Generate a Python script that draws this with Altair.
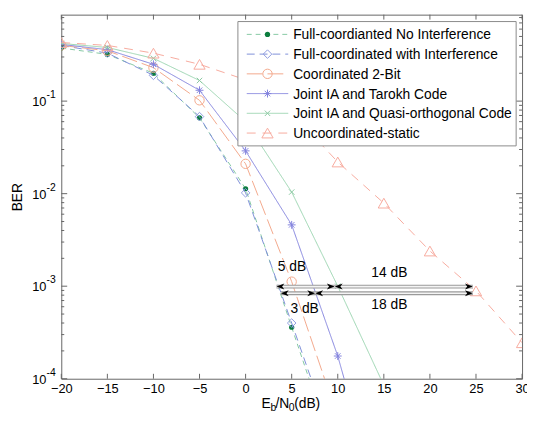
import altair as alt
import pandas as pd

# ---------------- data ----------------
EBN0 = [-20, -15, -10, -5, 0, 5, 10, 15, 20, 25, 30]
SERIES = [
    "Full-coordianted No Interference",
    "Full-coordinated with Interference",
    "Coordinated 2-Bit",
    "Joint IA and Tarokh Code",
    "Joint IA and Quasi-orthogonal Code",
    "Uncoordinated-static",
]
BER_FULL_NO_INT = [0.375, 0.32, 0.20, 0.066, 0.0113, 3.6e-4, 1.2e-5]
BER_FULL_INT = [0.40, 0.33, 0.19, 0.068, 0.0102, 4.0e-4, 1.5e-5]
BER_2BIT = [0.40, 0.35, 0.23, 0.102, 0.021, 1.12e-3, 3.8e-5]
BER_TAROKH = [0.41, 0.36, 0.25, 0.131, 0.029, 4.6e-3, 1.76e-4, 3e-6]
BER_QUASI = [0.42, 0.38, 0.29, 0.167, 0.06, 0.0104, 1.0e-3, 8.5e-5]
BER_UNCOORD = [0.43, 0.40, 0.33, 0.25, 0.17, 0.075, 0.022, 0.0079, 2.4e-3, 8.9e-4, 2.45e-4]

Y_MAJOR = [1e-1, 1e-2, 1e-3, 1e-4]
Y_EXP = ["-1", "-2", "-3", "-4"]

# annotation arrows: start, end, level
ARROW_X1 = [3.35, 3.82]
ARROW_X2 = [24.66, 24.66]
ARROW_Y = [9.9e-4, 8.4e-4]
ARROW_MID = [9.67, 7.55]
ANN_TEXT = ["5 dB", "14 dB", "3 dB", "18 dB"]
ANN_X = [5.03, 15.6, 6.4, 15.6]
ANN_Y = [1.6e-3, 1.37e-3, 5.6e-4, 6.3e-4]

# ---------------- styling ----------------
FONT = "Liberation Sans"
W, H = 467, 369
FRAME = "#666666"
ASTER = "M-1,0L1,0M0,-1L0,1M-0.7,-0.7L0.7,0.7M-0.7,0.7L0.7,-0.7"
XMARK = "M-1,-1L1,1M-1,1L1,-1"
ARROW = "M0,0L-1,-0.38L-0.72,0L-1,0.38Z"

STYLE = [
    # line colour, dash, marker shape, marker size, filled, marker colour
    ("#86c9a4", [5, 4], "circle", 28, True, "#0b7d3e"),
    ("#7f8fd8", [8, 5], "diamond", 75, False, "#8f9ce0"),
    ("#f3a98c", [16, 5], "circle", 90, False, "#f3a98c"),
    ("#8383dd", [1, 0], ASTER, 64, False, "#8383dd"),
    ("#9ad4b0", [1, 0], XMARK, 30, False, "#8cc9a3"),
    ("#f7ab9e", [9, 7], "triangle-up", 130, False, "#f7ab9e"),
]
VALUES = [BER_FULL_NO_INT, BER_FULL_INT, BER_2BIT, BER_TAROKH, BER_QUASI, BER_UNCOORD]

xs = alt.Scale(domain=[-20, 30], nice=False, zero=False)
ys = alt.Scale(type="log", domain=[1e-4, 0.86], nice=False)
XAX = alt.Axis(values=EBN0, grid=False, domain=False, ticks=False, tickSize=0,
               labelPadding=4, labelFontSize=13, labelFont=FONT, labelColor="black",
               title=None, labelFlush=False, labelOverlap=False)


def X(f):
    return alt.X(f, type="quantitative", scale=xs, axis=XAX)


def Y(f):
    return alt.Y(f, type="quantitative", scale=ys, axis=None)


layers = []

# series
for name, vals, st in zip(SERIES, VALUES, STYLE):
    lc, dash, shape, size, filled, mc = st
    df = pd.DataFrame({"x": EBN0[:len(vals)], "y": vals})
    layers.append(alt.Chart(df).mark_line(clip=True, color=lc, strokeWidth=1, strokeDash=dash)
                  .encode(x=X("x"), y=Y("y")))
    layers.append(alt.Chart(df).mark_point(clip=True, shape=shape, size=size, filled=filled,
                                           color=mc, strokeWidth=1, opacity=1)
                  .encode(x=X("x"), y=Y("y")))

# ticks (inward, MATLAB style)
xt = pd.DataFrame({"v": EBN0})
layers.append(alt.Chart(xt).mark_rule(color=FRAME).encode(x=X("v"), y=alt.value(H), y2=alt.value(H - 5)))
layers.append(alt.Chart(xt).mark_rule(color=FRAME).encode(x=X("v"), y=alt.value(0), y2=alt.value(5)))
minor = [m * 10.0 ** e for e in (-4, -3, -2, -1) for m in range(2, 10) if m * 10.0 ** e <= 0.86]
yt = pd.DataFrame({"v": Y_MAJOR})
ym = pd.DataFrame({"v": minor})
layers.append(alt.Chart(yt).mark_rule(color=FRAME).encode(y=Y("v"), x=alt.value(0), x2=alt.value(6)))
layers.append(alt.Chart(yt).mark_rule(color=FRAME).encode(y=Y("v"), x=alt.value(W), x2=alt.value(W - 6)))
layers.append(alt.Chart(ym).mark_rule(color=FRAME).encode(y=Y("v"), x=alt.value(0), x2=alt.value(3)))
layers.append(alt.Chart(ym).mark_rule(color=FRAME).encode(y=Y("v"), x=alt.value(W), x2=alt.value(W - 3)))

# y tick labels 10^k
layers.append(alt.Chart(yt).mark_text(align="right", baseline="middle", fontSize=13, font=FONT,
                                      color="black", dy=1, text="10")
              .encode(y=Y("v"), x=alt.value(-15)))
ye = pd.DataFrame({"v": Y_MAJOR, "e": Y_EXP})
layers.append(alt.Chart(ye).mark_text(align="left", baseline="middle", fontSize=10.5, font=FONT,
                                      color="black", dy=-6)
              .encode(y=Y("v"), x=alt.value(-15), text="e:N"))

# annotation arrows
ad = pd.DataFrame({"x1": ARROW_X1, "x2": ARROW_X2, "y": ARROW_Y})
layers.append(alt.Chart(ad).mark_rule(color="#9a9a9a", strokeWidth=4)
              .encode(x=X("x1"), x2="x2", y=Y("y")))
layers.append(alt.Chart(ad).mark_rule(color="#f4f4f4", strokeWidth=1.6)
              .encode(x=X("x1"), x2="x2", y=Y("y")))
hx, hy, ha = [], [], []
for x1, x2, y, xm in zip(ARROW_X1, ARROW_X2, ARROW_Y, ARROW_MID):
    hx += [x1, xm, xm, x2]
    hy += [y, y, y, y]
    ha += [180, 0, 180, 0]
hd = pd.DataFrame({"x": hx, "y": hy, "a": ha})
layers.append(alt.Chart(hd).mark_point(shape=ARROW, filled=True, color="black", size=256,
                                       strokeWidth=0, opacity=1)
              .encode(x=X("x"), y=Y("y"), angle=alt.Angle("a:Q", scale=None)))
td = pd.DataFrame({"t": ANN_TEXT, "x": ANN_X, "y": ANN_Y})
layers.append(alt.Chart(td).mark_text(fontSize=14, font=FONT, color="black")
              .encode(x=X("x"), y=Y("y"), text="t:N"))

# legend
one = pd.DataFrame({"k": [0]})
layers.append(alt.Chart(one).mark_rect(fill="white", stroke="#8a8a8a", strokeWidth=1)
              .encode(x=alt.value(179), x2=alt.value(461), y=alt.value(7), y2=alt.value(133)))
for i, (name, st) in enumerate(zip(SERIES, STYLE)):
    lc, dash, shape, size, filled, mc = st
    ly = 20 + 20 * i
    ld = pd.DataFrame({"t": [name]})
    layers.append(alt.Chart(ld).mark_rule(color=lc, strokeWidth=1, strokeDash=dash)
                  .encode(x=alt.value(188), x2=alt.value(230), y=alt.value(ly)))
    layers.append(alt.Chart(ld).mark_point(shape=shape, size=size, filled=filled, color=mc,
                                           strokeWidth=1, opacity=1)
                  .encode(x=alt.value(209), y=alt.value(ly)))
    layers.append(alt.Chart(ld).mark_text(align="left", baseline="middle", fontSize=14, font=FONT,
                                          color="black")
                  .encode(x=alt.value(235), y=alt.value(ly + 1), text="t:N"))

# axis titles
layers.append(alt.Chart(one).mark_text(angle=270, fontSize=14, font=FONT, color="black",
                                       baseline="middle", align="center", text="BER")
              .encode(x=alt.value(-44), y=alt.value(185)))
TITLE_PARTS = [("E", 203, 0, 14), ("b", 212, 4, 10.5), ("/N", 217, 0, 14), ("0", 230.5, 4, 10.5),
               ("(dB)", 236, 0, 14)]
for txt, px, dy, fs in TITLE_PARTS:
    layers.append(alt.Chart(one).mark_text(align="left", baseline="middle", fontSize=fs, font=FONT,
                                           color="black", text=txt)
                  .encode(x=alt.value(px), y=alt.value(395 + dy)))

chart = alt.layer(*layers).properties(
    width=W, height=H,
    autosize=alt.AutoSizeParams(type="none"),
    padding={"left": 54, "top": 4, "right": 5, "bottom": 33},
).configure_view(stroke=FRAME, strokeWidth=1)

chart.save("out.html", embed_options={"renderer": "svg", "actions": False})
